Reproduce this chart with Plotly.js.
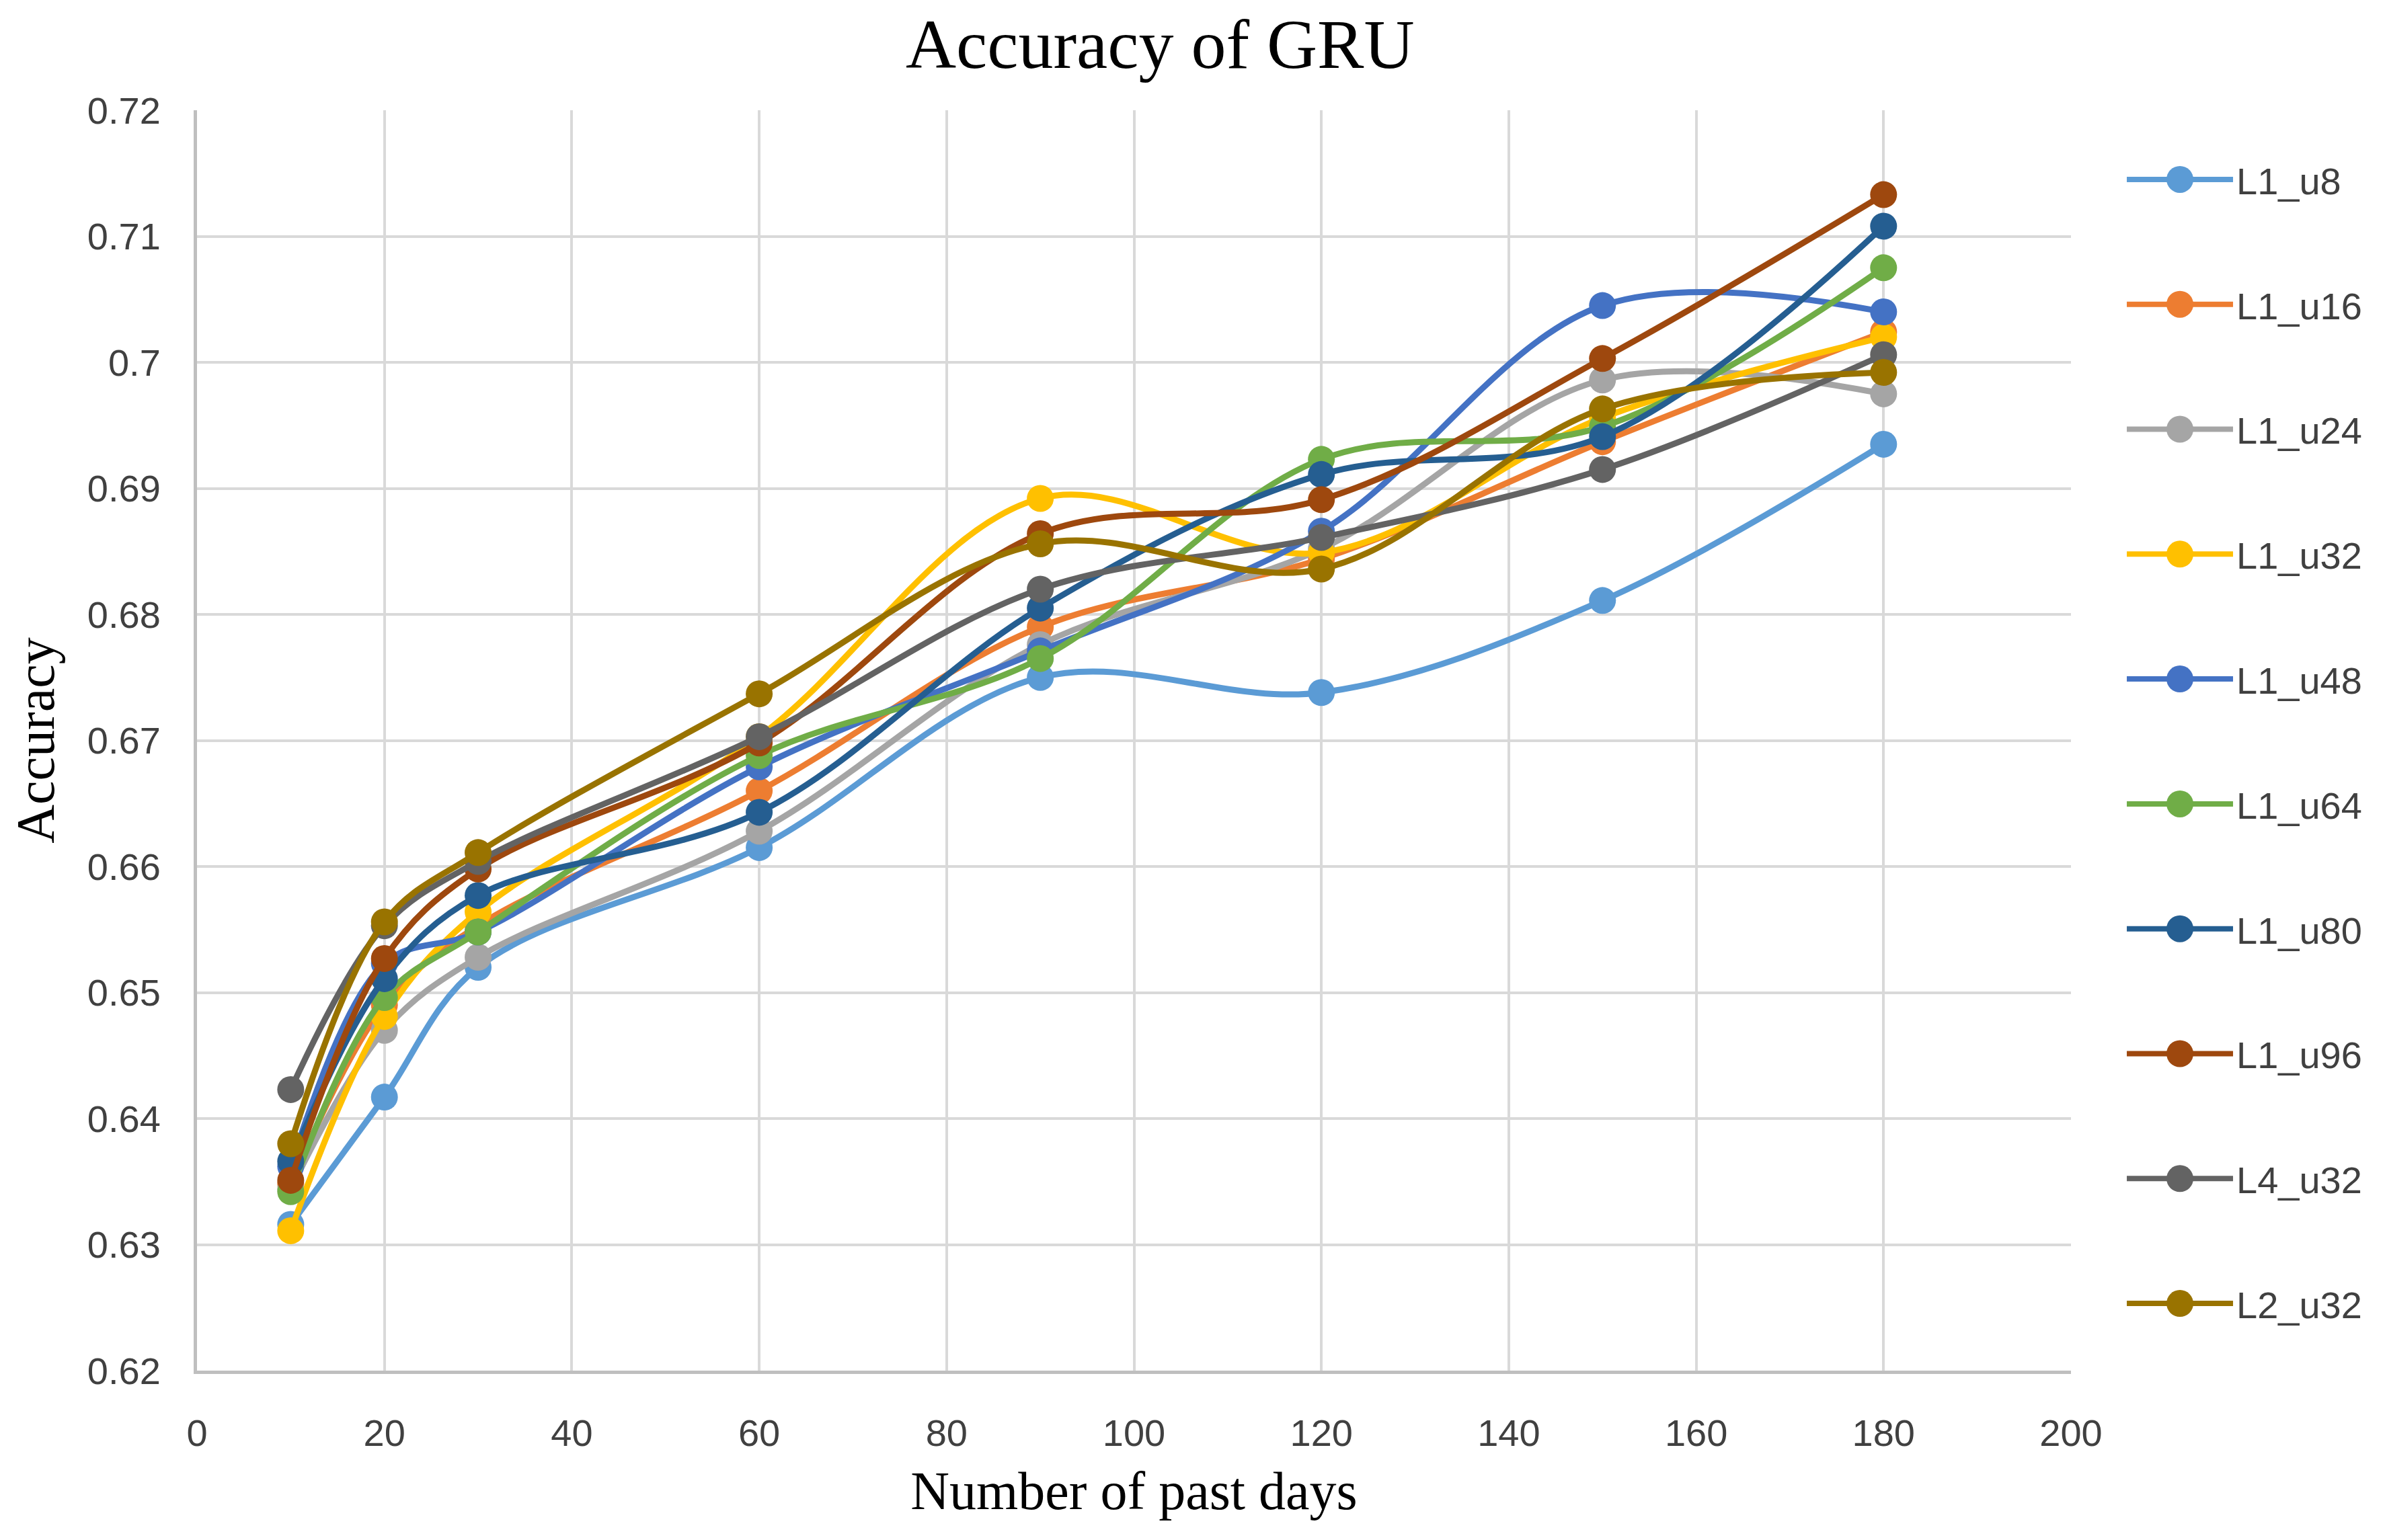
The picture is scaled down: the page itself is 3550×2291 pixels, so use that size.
<!DOCTYPE html>
<html>
<head>
<meta charset="utf-8">
<script src="https://cdn.plot.ly/plotly-3.0.1.min.js"></script>
<style>
  html, body { margin: 0; padding: 0; background: #fff; }
  #chart { width: 3550px; height: 2291px; }
</style>
</head>
<body>
<div id="chart"></div>
<script>
'use strict';

// number of past days (x axis)
const days = [10, 20, 30, 60, 90, 120, 150, 180];

// accuracy per model
const L1_u8  = [0.6316, 0.6417, 0.6520, 0.6615, 0.6750, 0.6738, 0.6811, 0.6935];
const L1_u16 = [0.6348, 0.6490, 0.6553, 0.6660, 0.6790, 0.6844, 0.6937, 0.7024];
const L1_u24 = [0.6344, 0.6470, 0.6528, 0.6628, 0.6776, 0.6852, 0.6986, 0.6975];
const L1_u32 = [0.6311, 0.6481, 0.6564, 0.6703, 0.6892, 0.6849, 0.6956, 0.7020];
const L1_u48 = [0.6362, 0.6523, 0.6548, 0.6679, 0.6771, 0.6866, 0.7045, 0.7040];
const L1_u64 = [0.6342, 0.6496, 0.6548, 0.6688, 0.6765, 0.6923, 0.6949, 0.7075];
const L1_u80 = [0.6366, 0.6511, 0.6577, 0.6643, 0.6805, 0.6911, 0.6941, 0.7108];
const L1_u96 = [0.6351, 0.6527, 0.6598, 0.6698, 0.6864, 0.6891, 0.7003, 0.7133];
const L4_u32 = [0.6423, 0.6553, 0.6604, 0.6703, 0.6820, 0.6861, 0.6915, 0.7006];
const L2_u32 = [0.6380, 0.6556, 0.6611, 0.6737, 0.6856, 0.6836, 0.6963, 0.6992];

const seriesNames = ['L1_u8', 'L1_u16', 'L1_u24', 'L1_u32', 'L1_u48',
                     'L1_u64', 'L1_u80', 'L1_u96', 'L4_u32', 'L2_u32'];
const seriesValues = [L1_u8, L1_u16, L1_u24, L1_u32, L1_u48,
                      L1_u64, L1_u80, L1_u96, L4_u32, L2_u32];
const seriesColors = ['#5B9BD5', '#ED7D31', '#A5A5A5', '#FFC000', '#4472C4',
                      '#70AD47', '#255E91', '#9E480E', '#636363', '#997300'];

const xTicks = [0, 20, 40, 60, 80, 100, 120, 140, 160, 180, 200];
const yTicks = [0.62, 0.63, 0.64, 0.65, 0.66, 0.67, 0.68, 0.69, 0.70, 0.71, 0.72];
const yTickText = ['0.62', '0.63', '0.64', '0.65', '0.66', '0.67', '0.68', '0.69', '0.7', '0.71', '0.72'];

const data = seriesNames.map(function(name, i) {
    return {
        x: days,
        y: seriesValues[i],
        name: name,
        legendgroup: name,
        type: 'scatter',
        mode: 'lines+markers',
        line: { color: seriesColors[i], width: 9, shape: 'spline', smoothing: 1 },
        marker: { color: seriesColors[i], size: 40 }
    };
});

const serif = 'Liberation Serif, Times New Roman, serif';
const sans = 'Liberation Sans, Arial, sans-serif';

const layout = {
    width: 3550,
    height: 2291,
    paper_bgcolor: '#ffffff',
    plot_bgcolor: '#ffffff',
    margin: { l: 293, r: 470, t: 164, b: 252, autoexpand: false },
    title: {
        text: 'Accuracy of GRU',
        font: { family: serif, size: 104, color: '#000000' },
        xref: 'container', x: 0.486, xanchor: 'center',
        yref: 'container', y: 0.972, yanchor: 'middle'
    },
    xaxis: {
        range: [0, 200],
        tickvals: xTicks,
        ticktext: xTicks.map(String),
        showgrid: true,
        gridcolor: '#d9d9d9',
        gridwidth: 4,
        zeroline: false,
        showline: true,
        linecolor: '#bfbfbf',
        linewidth: 5,
        ticks: '',
        ticklabelstandoff: 40,
        tickfont: { family: sans, size: 56, color: '#404040' },
        title: {
            text: 'Number of past days',
            font: { family: serif, size: 80, color: '#000000' },
            standoff: 28
        }
    },
    yaxis: {
        range: [0.62, 0.72],
        tickvals: yTicks,
        ticktext: yTickText,
        showgrid: true,
        gridcolor: '#d9d9d9',
        gridwidth: 4,
        zeroline: false,
        showline: true,
        linecolor: '#bfbfbf',
        linewidth: 5,
        ticks: '',
        ticklabelstandoff: 38,
        tickfont: { family: sans, size: 56, color: '#404040' },
        title: {
            text: 'Accuracy',
            font: { family: serif, size: 80, color: '#000000' },
            standoff: 24
        }
    },
    showlegend: true,
    legend: {
        x: 1.028,
        xanchor: 'left',
        y: 0.968,
        yanchor: 'top',
        traceorder: 'grouped',
        tracegroupgap: 110,
        itemwidth: 158,
        font: { family: sans, size: 56, color: '#404040' },
        bgcolor: 'rgba(0,0,0,0)'
    }
};

Plotly.newPlot('chart', data, layout, { displayModeBar: false, staticPlot: true }).then(function(gd) {
    // legend symbols are capped in size by plotly, enlarge them to match the chart marks
    gd.querySelectorAll('.legend .legendpoints path.scatterpts').forEach(function(p) {
        const t = p.getAttribute('transform') || '';
        p.setAttribute('transform', t + ' scale(2.5)');
    });
    gd.querySelectorAll('.legend .legendlines path').forEach(function(p) {
        p.style.strokeWidth = '8px';
    });
});
</script>
</body>
</html>
